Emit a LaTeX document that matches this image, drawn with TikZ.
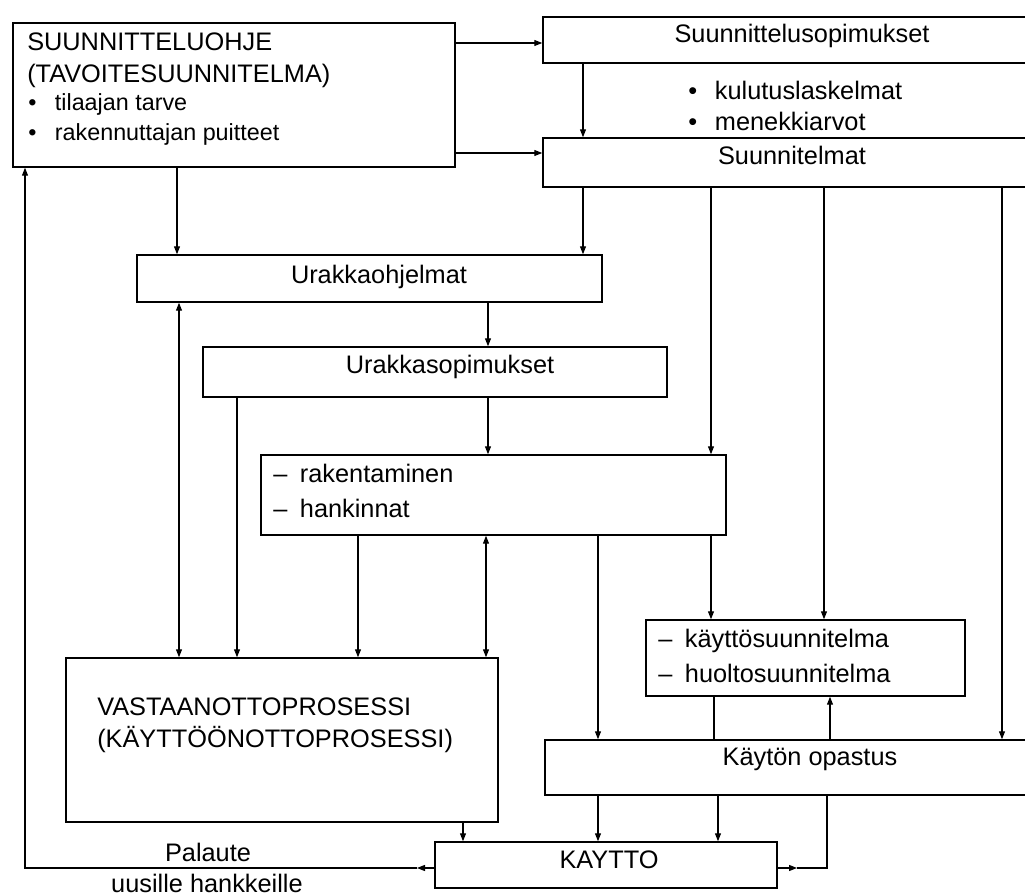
\documentclass[tikz,border=0pt]{standalone}
\usepackage{fontspec}
\setmainfont{Liberation Sans}
\usetikzlibrary{arrows.meta,fit}
\begin{document}
\begin{tikzpicture}[x=0.75pt,y=-0.75pt,
  bx/.style={draw, line width=1.1pt, inner sep=0pt},
  arr/.style={line width=0.9pt, -{Triangle[length=6pt,width=4.5pt]}},
  darr/.style={line width=0.9pt, {Triangle[length=6pt,width=4.5pt]}-{Triangle[length=6pt,width=4.5pt]}},
  ln/.style={line width=0.9pt},
  t/.style={font=\fontsize{19}{22}\selectfont, inner sep=0pt},
  ts/.style={font=\fontsize{17.5}{20}\selectfont, inner sep=0pt}]
\useasboundingbox (0,0) rectangle (1025,896);
\clip (0,0) rectangle (1025,896);

% boxes
\node[bx, fit={(13,23) (455,167)}] (tl) {};
\node[bx, fit={(543,17) (1061,63)}] (sopim) {};
\node[bx, fit={(543,138) (1041,187)}] (plans) {};
\node[bx, fit={(137,255) (602,302)}] (urak) {};
\node[bx, fit={(203,347) (667,397)}] (usop) {};
\node[bx, fit={(261,455) (726,535)}] (rak) {};
\node[bx, fit={(66,658) (498,822)}] (vast) {};
\node[bx, fit={(646,620) (965,696)}] (kays) {};
\node[bx, fit={(545,740) (1075,795)}] (opas) {};
\node[bx, fit={(435,842) (777,888)}] (kaytto) {};

% texts
\node[t, anchor=base west] (t1) at (27,50) {SUUNNITTELUOHJE};
\node[t, anchor=base west] (t2) at (27,82) {(TAVOITESUUNNITELMA)};
\node[ts, anchor=base west] (t3) at (28,110) {\makebox[20pt][l]{•}tilaajan tarve};
\node[ts, anchor=base west] (t4) at (28,140) {\makebox[20pt][l]{•}rakennuttajan puitteet};
\node[t, anchor=base] (t5) at (802,42) {Suunnittelusopimukset};
\node[t, anchor=base west] (t6) at (688,99) {\makebox[20pt][l]{•}kulutuslaskelmat};
\node[t, anchor=base west] (t7) at (688,130) {\makebox[20pt][l]{•}menekkiarvot};
\node[t, anchor=base] (t8) at (792,164) {Suunnitelmat};
\node[t, anchor=base] (t9) at (379,283) {Urakkaohjelmat};
\node[t, anchor=base] (t10) at (450,373) {Urakkasopimukset};
\node[t, anchor=base west] (t11) at (273,482) {\makebox[20pt][l]{–}rakentaminen};
\node[t, anchor=base west] (t12) at (273,517) {\makebox[20pt][l]{–}hankinnat};
\node[t, anchor=base west] (t13) at (97,715) {VASTAANOTTOPROSESSI};
\node[t, anchor=base west] (t14) at (97,747) {(KÄYTTÖÖNOTTOPROSESSI)};
\node[t, anchor=base west] (t15) at (658,647) {\makebox[20pt][l]{–}käyttösuunnitelma};
\node[t, anchor=base west] (t16) at (658,682) {\makebox[20pt][l]{–}huoltosuunnitelma};
\node[t, anchor=base] (t17) at (810,765) {Käytön opastus};
\node[t, anchor=base] (t18) at (609,868) {KAYTTO};
\node[t, anchor=base] (t19) at (208,861) {Palaute};
\node[t, anchor=base] (t20) at (207,892) {uusille hankkeille};

% helper coordinates
\coordinate (Y43) at (0,43);
\coordinate (Y153) at (0,153);
\coordinate (Y868) at (0,868);
\coordinate (X25) at (25,0);
\coordinate (X177) at (177,0);
\coordinate (X179) at (179,0);
\coordinate (X237) at (237,0);
\coordinate (X358) at (358,0);
\coordinate (X463) at (463,0);
\coordinate (X486) at (486,0);
\coordinate (X488) at (488,0);
\coordinate (X583) at (583,0);
\coordinate (X598) at (598,0);
\coordinate (X711) at (711,0);
\coordinate (X714) at (714,0);
\coordinate (X718) at (718,0);
\coordinate (X824) at (824,0);
\coordinate (X827) at (827,0);
\coordinate (X830) at (830,0);
\coordinate (X1002) at (1002,0);
\coordinate (m1) at (797,868);
\coordinate (m2) at (417,868);

% connectors
\draw[arr] (tl.east |- Y43) -- (sopim.west |- Y43);
\draw[arr] (tl.east |- Y153) -- (plans.west |- Y153);
\draw[arr] (tl.south -| X177) -- (urak.north -| X177);
\draw[arr] (sopim.south -| X583) -- (plans.north -| X583);
\draw[arr] (plans.south -| X583) -- (urak.north -| X583);
\draw[arr] (plans.south -| X711) -- (rak.north -| X711);
\draw[arr] (rak.south -| X711) -- (kays.north -| X711);
\draw[arr] (plans.south -| X824) -- (kays.north -| X824);
\draw[arr] (plans.south -| X1002) -- (opas.north -| X1002);
\draw[arr] (urak.south -| X488) -- (usop.north -| X488);
\draw[arr] (usop.south -| X488) -- (rak.north -| X488);
\draw[darr] (urak.south -| X179) -- (vast.north -| X179);
\draw[arr] (usop.south -| X237) -- (vast.north -| X237);
\draw[arr] (rak.south -| X358) -- (vast.north -| X358);
\draw[darr] (rak.south -| X486) -- (vast.north -| X486);
\draw[arr] (rak.south -| X598) -- (opas.north -| X598);
\draw[ln] (kays.south -| X714) -- (opas.north -| X714);
\draw[arr] (opas.north -| X830) -- (kays.south -| X830);
\draw[arr] (vast.south -| X463) -- (kaytto.north -| X463);
\draw[arr] (opas.south -| X598) -- (kaytto.north -| X598);
\draw[arr] (opas.south -| X718) -- (kaytto.north -| X718);
\draw[arr] (kaytto.east |- Y868) -- (m1);
\draw[ln] (m1) -- (X827 |- Y868) -- (opas.south -| X827);
\draw[arr] (kaytto.west |- Y868) -- (m2);
\draw[arr] (m2) -- (X25 |- Y868) -- (tl.south -| X25);
\end{tikzpicture}
\end{document}
